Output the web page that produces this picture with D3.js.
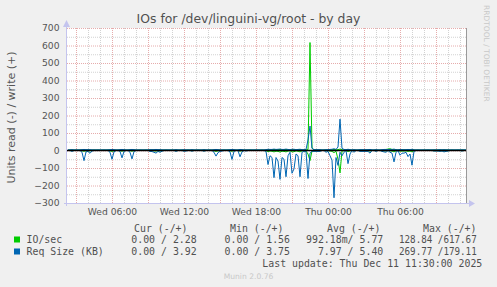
<!DOCTYPE html>
<html lang="en">
<head>
<meta charset="UTF-8">
<title>IOs for /dev/linguini-vg/root - by day</title>
<style>
  body { margin: 0; background: #f0f0f0; }
  svg { display: block; }
  .title { font: 12.4px "DejaVu Sans"; fill: #505050; }
  .ylabel { font: 11px "DejaVu Sans"; fill: #555; }
  .axis text { font: 9.2px "DejaVu Sans"; fill: #555; }
  .axis .domain { display: none; }
  .minor line { stroke: #d2d2d2; stroke-dasharray: 1,1; }
  .major line { stroke: #e6acac; stroke-dasharray: 1,1; }
  .legend text { font: 9.9px "DejaVu Sans Mono"; fill: #505050; white-space: pre; }
  .line { fill: none; stroke-width: 1px; }
</style>
</head>
<body>
<script src="https://d3js.org/d3.v7.min.js"></script>
<script>
// samples every 10 min, Wed 02:20 -> Thu 11:30
const start = new Date(Date.UTC(2025, 11, 10, 2, 20));
const stepMin = 10;

// Req Size (KB), read (drawn below zero)
const readReq = [
  0, 0, 5, 0, 0, 0, 0, 10, 58, 8,
  5, 16, 3, 0, 0, 0, 0, 0, 0, 0,
  0, 10, 50, 8, 0, 0, 5, 42, 5, 0,
  0, 10, 48, 6, 0, 0, 0, 0, 0, 0,
  0, 5, 6, 10, 15, 5, 10, 4, 0, 0,
  0, 0, 0, 0, 5, 0, 0, 0, 4, 3,
  0, 0, 4, 0, 0, 0, 0, 0, 4, 0,
  0, 0, 0, 10, 32, 12, 5, 3, 0, 0,
  0, 8, 51, 5, 0, 0, 36, 8, 0, 3,
  0, 0, 0, 0, 0, 0, 0, 0, 0, 5,
  80, 30, 40, 155, 40, 60, 165, 40, 50, 150,
  30, 10, 130, 105, 20, 30, 150, 10, 5, 5,
  160, 15, 5, 5, 5, 5, 5, 0, 0, 10,
  5, 30, 55, 270, 40, 85, 10, 30, 10, 0,
  75, 20, 0, 10, 0, 0, 5, 5, 5, 5,
  5, 15, 0, 0, 5, 0, 0, 5, 8, 10,
  0, 10, 15, 65, 10, 0, 27, 15, 15, 10,
  35, 20, 84, 5, 0, 0, 0, 0, 0, 0,
  0, 0, 0, 3, 3, 3, 5, 3, 8, 5,
  3, 0, 0, 0, 0, 0, 0, 3, 0, 0
];

// Req Size (KB), write
const writeReq = [
  4, 4, 5, 4, 4, 4, 4, 5, 6, 5,
  5, 5, 4, 4, 4, 4, 4, 4, 4, 4,
  4, 5, 6, 5, 4, 4, 5, 6, 5, 4,
  4, 5, 6, 5, 4, 4, 4, 4, 4, 4,
  4, 5, 5, 5, 6, 5, 5, 4, 4, 4,
  4, 4, 4, 4, 5, 4, 4, 4, 5, 4,
  4, 4, 5, 4, 4, 4, 4, 4, 5, 4,
  4, 4, 4, 5, 6, 5, 4, 4, 4, 4,
  4, 5, 6, 5, 4, 4, 6, 5, 4, 4,
  4, 4, 4, 4, 4, 4, 4, 4, 4, 5,
  7, 6, 6, 8, 6, 7, 8, 6, 6, 8,
  6, 5, 7, 7, 5, 6, 7, 5, 5, 6,
  60, 140, 12, 5, 5, 5, 5, 4, 4, 5,
  5, 6, 7, 10, 6, 20, 179, 12, 6, 5,
  7, 5, 4, 5, 4, 4, 5, 5, 5, 5,
  5, 6, 4, 4, 5, 4, 4, 5, 6, 6,
  5, 6, 6, 8, 5, 4, 6, 5, 5, 5,
  6, 5, 7, 4, 4, 4, 4, 4, 4, 4,
  4, 4, 4, 4, 4, 4, 5, 4, 5, 4,
  4, 4, 4, 4, 4, 4, 4, 4, 4, 4
];

// IO/sec, read
const readIO = [
  0, 0, 1, 0, 0, 0, 0, 2, 4, 2,
  3, 2, 0, 0, 0, 0, 0, 0, 0, 0,
  0, 2, 5, 2, 0, 0, 1, 4, 1, 0,
  0, 1, 4, 1, 0, 0, 0, 0, 0, 0,
  0, 1, 1, 2, 3, 1, 2, 1, 0, 0,
  0, 0, 0, 0, 1, 0, 0, 0, 1, 0,
  0, 0, 1, 0, 0, 0, 0, 0, 1, 0,
  0, 0, 0, 2, 5, 2, 1, 0, 0, 0,
  0, 2, 4, 1, 0, 0, 4, 1, 0, 0,
  0, 0, 0, 0, 0, 0, 0, 0, 0, 1,
  6, 3, 4, 8, 4, 5, 9, 4, 5, 8,
  3, 2, 8, 7, 2, 4, 8, 2, 1, 3,
  20, 58, 3, 2, 1, 1, 1, 0, 0, 1,
  1, 3, 5, 12, 4, 50, 128, 3, 1, 0,
  6, 2, 0, 1, 0, 0, 1, 1, 1, 1,
  1, 3, 0, 0, 1, 0, 0, 1, 2, 2,
  0, 2, 3, 8, 2, 0, 4, 3, 3, 2,
  5, 3, 8, 1, 0, 0, 0, 0, 0, 0,
  0, 0, 0, 1, 1, 1, 1, 1, 2, 1,
  1, 0, 0, 0, 0, 0, 0, 1, 0, 0
];

// IO/sec, write
const writeIO = [
  2, 3, 3, 2, 3, 2, 3, 3, 2, 3,
  3, 2, 2, 3, 2, 3, 2, 2, 3, 2,
  3, 3, 4, 3, 2, 2, 3, 4, 3, 2,
  2, 3, 4, 3, 2, 2, 3, 2, 2, 3,
  2, 3, 3, 3, 4, 3, 3, 2, 2, 3,
  2, 2, 3, 2, 3, 2, 2, 3, 2, 2,
  3, 2, 3, 2, 2, 3, 2, 2, 3, 2,
  2, 3, 2, 3, 4, 3, 2, 2, 3, 2,
  3, 2, 4, 3, 2, 2, 4, 3, 2, 2,
  2, 3, 2, 2, 3, 2, 2, 3, 2, 3,
  5, 4, 4, 6, 4, 5, 6, 4, 5, 6,
  4, 3, 5, 5, 3, 4, 5, 3, 3, 4,
  5, 617, 14, 4, 3, 3, 3, 2, 3, 3,
  3, 4, 4, 6, 4, 5, 8, 4, 3, 3,
  5, 3, 2, 3, 2, 2, 3, 3, 3, 3,
  3, 4, 2, 2, 3, 2, 2, 3, 4, 6,
  8, 10, 6, 5, 4, 3, 6, 5, 4, 4,
  5, 4, 6, 3, 2, 3, 2, 2, 3, 2,
  3, 2, 2, 3, 3, 3, 3, 3, 3, 3,
  3, 2, 3, 2, 2, 3, 2, 3, 2, 2
];

const legendHeads = ['Cur (-/+)', 'Min (-/+)', 'Avg (-/+)', 'Max (-/+)'];
const legendRows = [
  { name: 'IO/sec', color: '#00cc00',
    vals: ['0.00 / 2.28', '0.00 / 1.56', '992.18m/ 5.77', '128.84 /617.67'] },
  { name: 'Req Size (KB)', color: '#0066b3',
    vals: ['0.00 / 3.92', '0.00 / 3.75', '7.97 / 5.40', '269.77 /179.11'] }
];
const lastUpdate = 'Last update: Thu Dec 11 11:30:00 2025';

const W = 497, H = 287;
const pLeft = 67, pRight = 467, pTop = 28, pBottom = 203;

const times = readReq.map((d, i) => new Date(start.getTime() + i * stepMin * 60000));

const x = d3.scaleUtc()
  .domain([new Date(Date.UTC(2025, 11, 10, 2, 15)), new Date(Date.UTC(2025, 11, 11, 11, 35))])
  .range([pLeft, pRight]);
const y = d3.scaleLinear().domain([-300, 700]).range([pBottom, pTop]);

const svg = d3.select('body').append('svg')
  .attr('width', W)
  .attr('height', H);

svg.append('rect')
  .attr('x', pLeft).attr('y', pTop)
  .attr('width', pRight - pLeft).attr('height', pBottom - pTop)
  .attr('fill', '#fff');

// grid
svg.append('g').attr('class', 'axis minor')
  .attr('transform', `translate(0,${pBottom})`)
  .call(d3.axisBottom(x).ticks(d3.utcHour.every(1)).tickSize(-(pBottom - pTop)).tickFormat(''));
svg.append('g').attr('class', 'axis minor')
  .attr('transform', `translate(${pLeft},0)`)
  .call(d3.axisLeft(y).tickValues(d3.range(-250, 700, 100)).tickSize(-(pRight - pLeft)).tickFormat(''));
svg.append('g').attr('class', 'axis major')
  .attr('transform', `translate(0,${pBottom})`)
  .call(d3.axisBottom(x).ticks(d3.utcHour.every(3)).tickSize(-(pBottom - pTop)).tickFormat(''));
svg.append('g').attr('class', 'axis major')
  .attr('transform', `translate(${pLeft},0)`)
  .call(d3.axisLeft(y).tickValues(d3.range(-300, 701, 100)).tickSize(-(pRight - pLeft)).tickFormat(''));

// labels
svg.append('g').attr('class', 'axis')
  .attr('transform', `translate(${pLeft},0)`)
  .call(d3.axisLeft(y).tickValues(d3.range(-300, 701, 100)).tickSize(0).tickPadding(7.5));
svg.append('g').attr('class', 'axis')
  .attr('transform', `translate(0,${pBottom})`)
  .call(d3.axisBottom(x).ticks(d3.utcHour.every(6)).tickSize(0).tickPadding(5.5)
    .tickFormat(d3.utcFormat('%a %H:%M')));

// data
const line = d3.line()
  .x((d, i) => x(times[i]))
  .y(d => y(d));

const series = [
  { vals: readIO.map(v => -v), color: '#00cc00' },
  { vals: writeIO, color: '#00cc00' },
  { vals: readReq.map(v => -v), color: '#0066b3' },
  { vals: writeReq, color: '#0066b3' }
];
series.forEach(s => {
  svg.append('path')
    .datum(s.vals)
    .attr('class', 'line')
    .attr('stroke', s.color)
    .attr('d', line);
});

// zero rule on top of the lines
svg.append('line')
  .attr('x1', pLeft).attr('x2', pRight)
  .attr('y1', y(0)).attr('y2', y(0))
  .attr('stroke', '#000')
  .attr('stroke-width', 1.5);

svg.append('line')
  .attr('x1', pRight - 0.5).attr('x2', pRight - 0.5)
  .attr('y1', pTop).attr('y2', pBottom)
  .attr('stroke', '#9a9a9a');

// axis arrows
const axisCol = '#c4c4ee';
svg.append('line').attr('x1', pLeft - 0.5).attr('x2', pLeft - 0.5)
  .attr('y1', pBottom + 3).attr('y2', 24).attr('stroke', axisCol);
svg.append('line').attr('x1', pLeft - 3).attr('x2', 470)
  .attr('y1', pBottom + 0.5).attr('y2', pBottom + 0.5).attr('stroke', axisCol);
svg.append('path').attr('d', `M${pLeft - 4},27L${pLeft + 3},27L${pLeft - 0.5},20Z`).attr('fill', axisCol);
svg.append('path').attr('d', `M469,${pBottom - 3}L469,${pBottom + 4}L475,${pBottom + 0.5}Z`).attr('fill', axisCol);

// titles
svg.append('text').attr('class', 'title')
  .attr('x', W / 2).attr('y', 23)
  .attr('text-anchor', 'middle')
  .text('IOs for /dev/linguini-vg/root - by day');

svg.append('text').attr('class', 'ylabel')
  .attr('transform', `translate(14.5,${(pTop + pBottom) / 2 + 2}) rotate(-90)`)
  .attr('text-anchor', 'middle')
  .text('Units read (-) / write (+)');

svg.append('text')
  .attr('transform', 'translate(483.5,5) rotate(90)')
  .attr('fill', '#c8c8c8')
  .style('font', '7.5px "DejaVu Sans"')
  .text('RRDTOOL / TOBI OETIKER');

// legend
const lg = svg.append('g').attr('class', 'legend');
const headX = [134, 230, 327, 423];
const valEnd = [196.7, 290, 383.3];
legendHeads.forEach((h, i) => {
  lg.append('text').attr('x', headX[i]).attr('y', 231.5).text(h);
});
legendRows.forEach((r, j) => {
  const by = 243 + j * 12;
  lg.append('rect')
    .attr('x', 14).attr('y', by - 6.5)
    .attr('width', 6).attr('height', 6)
    .attr('fill', r.color);
  lg.append('text').attr('x', 26.5).attr('y', by).text(r.name);
  r.vals.forEach((v, i) => {
    if (i === 3) {
      // max field is wider than its slot: squeeze it into the same span
      lg.append('text').attr('x', 399).attr('y', by)
        .attr('textLength', 77.7).attr('lengthAdjust', 'spacingAndGlyphs')
        .text(v);
    } else {
      lg.append('text').attr('x', valEnd[i]).attr('y', by)
        .attr('text-anchor', 'end').text(v);
    }
  });
});
lg.append('text').attr('x', 482.3).attr('y', 267)
  .attr('text-anchor', 'end').text(lastUpdate);

svg.append('text')
  .attr('x', W / 2).attr('y', 278.5)
  .attr('text-anchor', 'middle')
  .attr('fill', '#c8c8c8')
  .style('font', '7.6px "DejaVu Sans"')
  .text('Munin 2.0.76');
</script>
</body>
</html>
